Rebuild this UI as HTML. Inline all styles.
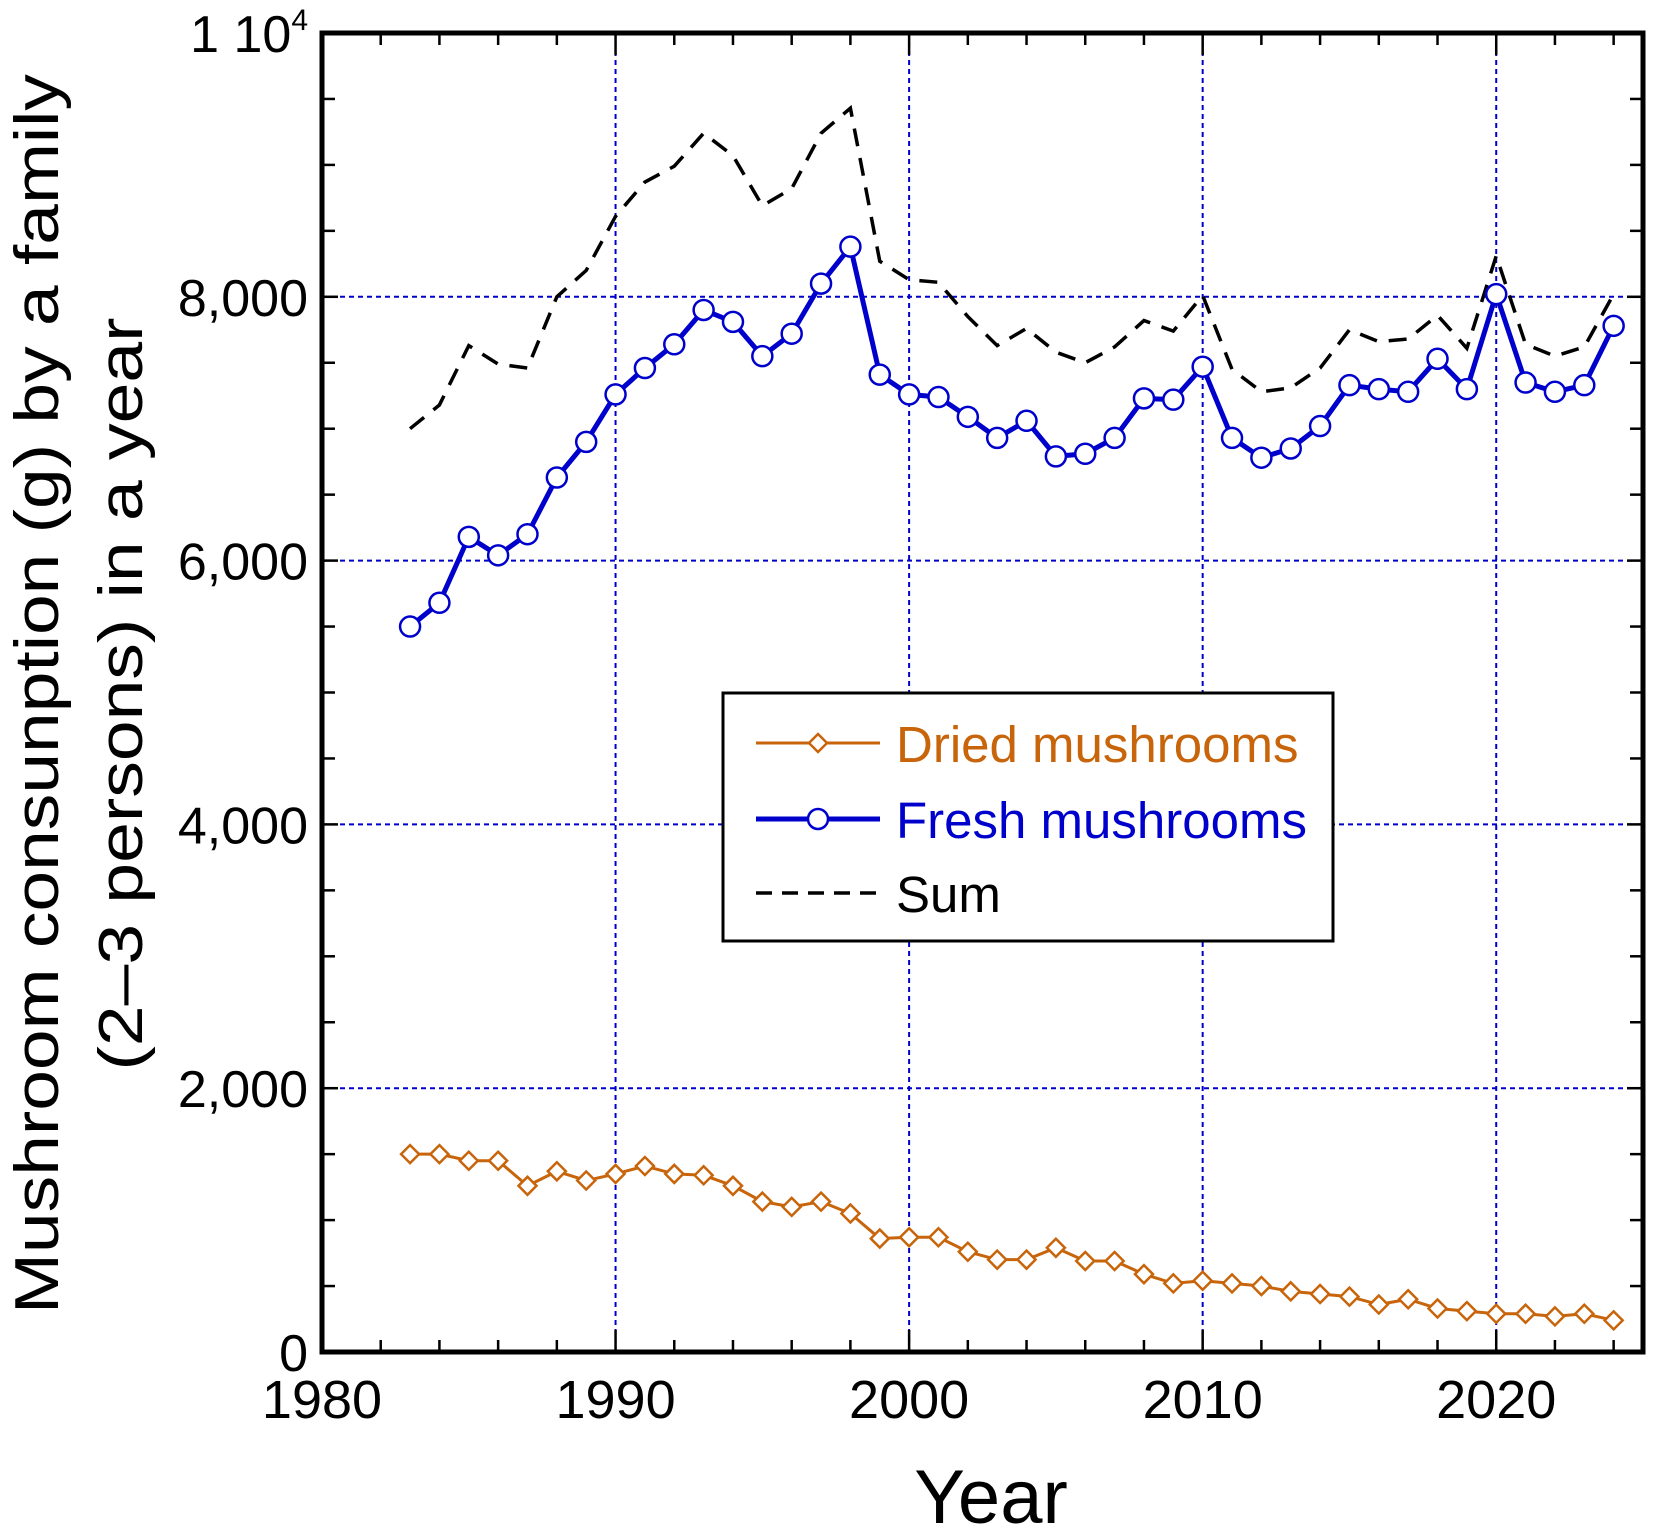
<!DOCTYPE html>
<html><head><meta charset="utf-8"><style>
html,body{margin:0;padding:0;background:#fff;}
svg{display:block;font-family:"Liberation Sans",Arial,sans-serif;}
</style></head><body>
<svg id="chart" width="1654" height="1534" viewBox="0 0 1654 1534" xmlns="http://www.w3.org/2000/svg">
<g id="grid"></g>
<g id="series"></g>
<g id="axes"></g>
<text x="0" y="0" transform="translate(58,694) rotate(-90)" text-anchor="middle" font-size="62" textLength="1240" lengthAdjust="spacingAndGlyphs">Mushroom consunption (g) by a family</text>
<text x="0" y="0" transform="translate(142,694) rotate(-90)" text-anchor="middle" font-size="62" textLength="753" lengthAdjust="spacingAndGlyphs">(2–3 persons) in a year</text>
<text x="991" y="1523" text-anchor="middle" font-size="76">Year</text>
<g>
<rect x="723" y="693" width="610" height="248" fill="#fff" stroke="#000" stroke-width="3"/>
<g>
<line x1="756" y1="743" x2="880" y2="743" stroke="#c8640a" stroke-width="3"/>
<path d="M818 734 L827 743 L818 752 L809 743 Z" fill="#fff" stroke="#c8640a" stroke-width="2.5"/>
<text x="896" y="762" font-size="51" fill="#c8640a">Dried mushrooms</text>
</g>
<g>
<line x1="756" y1="819" x2="880" y2="819" stroke="#0000cc" stroke-width="5"/>
<circle cx="818" cy="819" r="10" fill="#fff" stroke="#0000cc" stroke-width="2.5"/>
<text x="896" y="838" font-size="51" fill="#0000cc">Fresh mushrooms</text>
</g>
<g>
<line x1="756" y1="893" x2="880" y2="893" stroke="#000" stroke-width="3.5" stroke-dasharray="16,10"/>
<text x="896" y="912" font-size="51" fill="#000">Sum</text>
</g>
</g>
</svg>
<script>
const years = [1983,1984,1985,1986,1987,1988,1989,1990,1991,1992,1993,1994,1995,1996,1997,1998,1999,2000,2001,2002,2003,2004,2005,2006,2007,2008,2009,2010,2011,2012,2013,2014,2015,2016,2017,2018,2019,2020,2021,2022,2023,2024];
const fresh = [5500,5680,6180,6040,6200,6630,6900,7260,7460,7640,7900,7810,7550,7720,8100,8380,7410,7260,7240,7090,6930,7060,6790,6810,6930,7230,7220,7470,6930,6780,6850,7020,7330,7300,7280,7530,7300,8020,7350,7280,7330,7780];
const dried = [1500,1500,1450,1450,1260,1370,1300,1350,1410,1350,1340,1260,1140,1100,1140,1050,860,870,870,760,700,700,790,690,690,590,520,540,520,500,460,440,420,360,400,330,310,290,290,270,290,240];
const yTicks = [0,2000,4000,6000,8000];
const yTickLabels = ["0","2,000","4,000","6,000","8,000"];
const xTicks = [1980,1990,2000,2010,2020];

const L=322,R=1643,T=33,B=1352;
const X0=1980,X1=2025,Y0=0,Y1=10000;
function sx(v){return L+(v-X0)/(X1-X0)*(R-L);}
function sy(v){return B-(v-Y0)/(Y1-Y0)*(B-T);}
const NS="http://www.w3.org/2000/svg";
function mk(tag,attrs,parent){const e=document.createElementNS(NS,tag);for(const k in attrs)e.setAttribute(k,attrs[k]);parent.appendChild(e);return e;}
const gridG=document.getElementById('grid'),seriesG=document.getElementById('series'),axesG=document.getElementById('axes');

yTicks.forEach(v=>{if(v===0)return;
 const g=mk('line',{x1:L,x2:R,y1:sy(v),y2:sy(v),stroke:'#0000cc','stroke-width':2,'stroke-dasharray':'5,4'},gridG);
 
 
});
xTicks.forEach(v=>{if(v===X0)return;
 const g=mk('line',{x1:sx(v),x2:sx(v),y1:T,y2:B,stroke:'#0000cc','stroke-width':2,'stroke-dasharray':'5,4'},gridG);
 
 
});

const sumVals=fresh.map((f,i)=>f+dried[i]);
const sumPath=mk('polyline',{points:years.map((y,i)=>sx(y)+','+sy(sumVals[i])).join(' '),fill:'none',stroke:'#000','stroke-width':3.5,'stroke-dasharray':'18,12'},seriesG);



const dl=mk('polyline',{points:years.map((y,i)=>sx(y)+','+sy(dried[i])).join(' '),fill:'none',stroke:'#c8640a','stroke-width':3},seriesG);


years.forEach((y,i)=>{const cx=sx(y),cy=sy(dried[i]);
 const p=mk('path',{d:`M${cx} ${cy-9} L${cx+9} ${cy} L${cx} ${cy+9} L${cx-9} ${cy} Z`,fill:'#fff',stroke:'#c8640a','stroke-width':2.5},seriesG);
 
 
});

const fl=mk('polyline',{points:years.map((y,i)=>sx(y)+','+sy(fresh[i])).join(' '),fill:'none',stroke:'#0000cc','stroke-width':5},seriesG);


years.forEach((y,i)=>{
 const c=mk('circle',{cx:sx(y),cy:sy(fresh[i]),r:10,fill:'#fff',stroke:'#0000cc','stroke-width':2.5},seriesG);
 
 
});

const fr=mk('rect',{x:L,y:T,width:R-L,height:B-T,fill:'none',stroke:'#000','stroke-width':5},axesG);


for(let v=0;v<=10000;v+=500){const major=v%2000===0;const len=major?16:13;
 mk('line',{x1:L,x2:L+len,y1:sy(v),y2:sy(v),stroke:'#000','stroke-width':2.5},axesG);
 mk('line',{x1:R,x2:R-len,y1:sy(v),y2:sy(v),stroke:'#000','stroke-width':2.5},axesG);
}
for(let v=1980;v<=2024;v+=2){const major=v%10===0;const len=major?22:12;
 mk('line',{x1:sx(v),x2:sx(v),y1:B,y2:B-len,stroke:'#000','stroke-width':2.5},axesG);
 mk('line',{x1:sx(v),x2:sx(v),y1:T,y2:T+len,stroke:'#000','stroke-width':2.5},axesG);
}
yTicks.forEach((v,i)=>{
 const t=mk('text',{x:308,y:sy(v)+19,'text-anchor':'end','font-size':52},axesG);
 t.textContent=yTickLabels[i];
 
 
});
const topLabel=mk('text',{x:308,y:52,'text-anchor':'end','font-size':52},axesG);
topLabel.textContent='1 10';
const sup=mk('tspan',{dy:'-22','font-size':30},topLabel);
sup.textContent='4';


xTicks.forEach(v=>{
 const t=mk('text',{x:sx(v),y:1418,'text-anchor':'middle','font-size':54},axesG);
 t.textContent=v;
 
 
});
</script>
</body></html>
